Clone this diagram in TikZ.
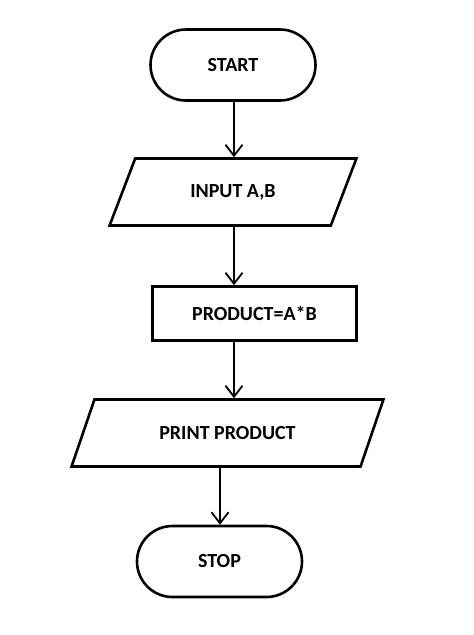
\documentclass[tikz,border=0pt]{standalone}
\usepackage{fontspec}
\setmainfont{Carlito}
\usetikzlibrary{shapes.geometric,shapes.misc,arrows.meta}
\begin{document}
\begin{tikzpicture}[x=1pt,y=-1pt,
  every node/.style={font=\bfseries\fontsize{20}{22}\selectfont, line width=2.6pt, draw, inner sep=0pt},
  term/.style={rounded rectangle, minimum width=165pt, minimum height=71pt},
  io/.style={trapezium, trapezium stretches=true, minimum height=67pt},
  proc/.style={rectangle, minimum width=204pt, minimum height=54pt},
  conn/.style={line width=1.8pt, -{Straight Barb[length=11pt,width=17pt,line width=1.8pt]}}
]
\useasboundingbox (0,0) rectangle (474,635);
\node[term] (start) at (233,65) {START};
\node[io, trapezium left angle=54.5, trapezium right angle=125.5, minimum width=247pt] (input) at (233,192) {INPUT A,B};
\node[proc] (prod) at (254.5,313.5) {PRODUCT=A*B};
\node[io, trapezium left angle=48.5, trapezium right angle=131.5, minimum width=312pt] (print) at (227.5,433) {PRINT PRODUCT};
\node[term] (stop) at (219.5,561.5) {STOP};
\coordinate (a3) at (234,0);
\coordinate (a5) at (220,0);
\draw[conn] (start.south -| a3) -- (input.north -| a3);
\draw[conn] (input.south -| a3) -- (prod.north -| a3);
\draw[conn] (prod.south -| a3) -- (print.north -| a3);
\draw[conn] (print.south -| a5) -- (stop.north -| a5);
\end{tikzpicture}
\end{document}
